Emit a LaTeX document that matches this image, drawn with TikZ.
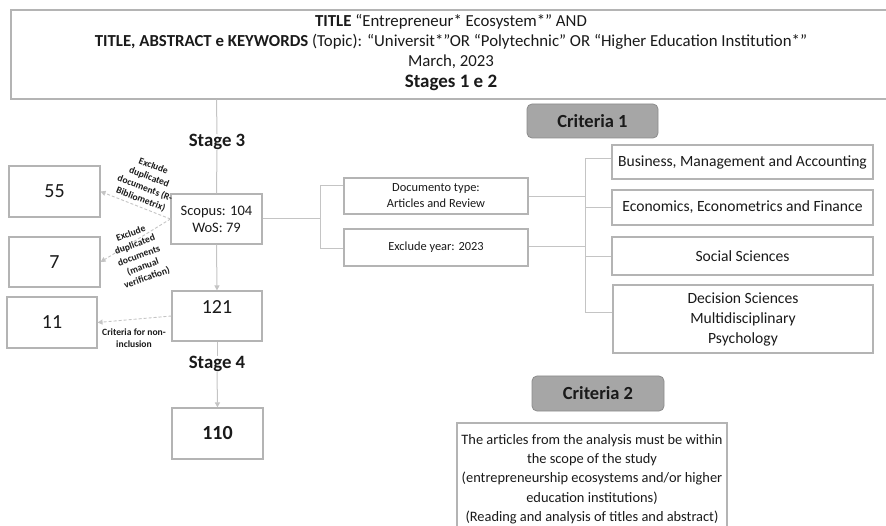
\documentclass[tikz,border=0pt]{standalone}
\usepackage{fontspec}
\setmainfont{Carlito}
\usetikzlibrary{arrows.meta}
\definecolor{boxgray}{HTML}{B4B4B4}
\definecolor{linegray}{HTML}{C4C4C4}
\definecolor{critfill}{HTML}{A6A6A6}
\definecolor{critdraw}{HTML}{8C8C8C}
\definecolor{txt}{HTML}{1A1A1A}
\begin{document}
\begin{tikzpicture}[x=1pt,y=-1pt,
  every node/.style={text=txt},
  box/.style={draw=boxgray, line width=1.1pt, inner sep=0pt, fill=white},
  conn/.style={draw=linegray, line width=1pt},
  arr/.style={draw=linegray, line width=1pt, -{Triangle[length=5pt,width=5pt,fill=linegray]}},
  darr/.style={draw=linegray, line width=0.9pt, dash pattern=on 3pt off 2pt, -{Triangle[length=5pt,width=5pt,fill=linegray]}},
  crit/.style={draw=critdraw, fill=critfill, rounded corners=5pt, line width=0.8pt, font=\fontsize{18.5}{22}\bfseries, inner sep=0pt},
  small/.style={font=\fontsize{9.6}{11.8}\bfseries, align=center, inner sep=0pt},
  mid/.style={font=\fontsize{12.4}{16}\selectfont, align=center, inner sep=0pt},
  cat/.style={font=\fontsize{15.6}{20}\selectfont, align=center, inner sep=0pt},
  num/.style={font=\fontsize{20}{24}\selectfont, inner sep=0pt}
]
\useasboundingbox (0,0) rectangle (886,526);

% top box
\node[box, minimum width=880pt, minimum height=89pt] (top) at (451,54.5) {};
\node[align=center, inner sep=0pt, font=\fontsize{16.8}{20}\selectfont] (toptext) at (451,53)
 {\textbf{TITLE} “Entrepreneur* Ecosystem*” AND\\
  \textbf{TITLE, ABSTRACT e KEYWORDS} (Topic): “Universit*”OR “Polytechnic” OR “Higher Education Institution*”\\
  March, 2023\\[1pt]
  {\fontsize{19}{21}\bfseries Stages 1 e 2}};

% left column
\node[box, minimum width=91pt, minimum height=50pt, font=\fontsize{14.5}{17}\selectfont, align=center] (scopus) at (216.5,219) {Scopus: 104\\WoS: 79};
\node[box, minimum width=91pt, minimum height=51pt, num] (b55) at (54.5,191.5) {55};
\node[box, minimum width=91pt, minimum height=50pt, num] (b7) at (54.5,262) {7};
\node[box, minimum width=90pt, minimum height=51pt, num] (b11) at (52,322.5) {11};
\node[box, minimum width=90pt, minimum height=50pt] (b121) at (217,316) {};
\node[num] (t121) at (217,307) {121};
\node[box, minimum width=91pt, minimum height=51pt, num, font=\fontsize{20}{24}\bfseries] (b110) at (217.5,433.5) {110};

\node[font=\fontsize{18.8}{22}\bfseries, inner sep=0pt] (st3) at (217,142) {Stage 3};
\node[font=\fontsize{18.8}{22}\bfseries, inner sep=0pt] (st4) at (217,364) {Stage 4};

\draw[conn] (top.south -| scopus.north) -- (st3.north);
\draw[conn] (st3.south) -- (scopus.north);
\draw[arr] (scopus.south) -- (b121.north);
\draw[conn] (b121.south) -- (st4.north);
\draw[arr] (st4.south) -- (b110.north);

\draw[darr] (scopus.west) -- (b55.east);
\draw[darr] (scopus.west) -- (b7.east);
\draw[darr] (b121.west) -- (b11.east);

\node[small, rotate=-21] (lab1) at (147,183) {Exclude\\duplicated\\documents (R-\\Bibliometrix)};
\node[small, rotate=20] (lab2) at (139,256) {Exclude\\duplicated\\documents\\(manual\\verification)};
\node[small] (lab3) at (134,338) {Criteria for non-\\inclusion};

% middle
\node[box, minimum width=184pt, minimum height=36pt, mid] (doc) at (436,196) {Documento type:\\Articles and Review};
\node[box, minimum width=184pt, minimum height=37pt, mid] (year) at (436,247.5) {Exclude year: 2023};

\coordinate (j1) at (320,219);
\draw[conn] (scopus.east) -- (j1);
\draw[conn] (320,186) -- (320,249);
\draw[conn] (320,186) -- (doc.west |- 0,186);
\draw[conn] (320,249) -- (year.west |- 0,249);

% criteria 1
\node[crit, minimum width=131pt, minimum height=34pt] (c1) at (592.5,121) {Criteria 1};

% categories
\node[box, minimum width=261pt, minimum height=34pt, cat] (k1) at (742.5,162) {Business, Management and Accounting};
\node[box, minimum width=261pt, minimum height=35pt, cat] (k2) at (742.5,207.5) {Economics, Econometrics and Finance};
\node[box, minimum width=261pt, minimum height=38pt, cat] (k3) at (742.5,256) {Social Sciences};
\node[box, minimum width=260pt, minimum height=68pt, cat] (k4) at (743,319) {Decision Sciences\\Multidisciplinary\\Psychology};

\coordinate (j2) at (585,197);
\coordinate (j3) at (585,247);
\draw[conn] (doc.east |- j2) -- (j2);
\draw[conn] (year.east |- j3) -- (j3);
\draw[conn] (585,159) -- (585,313);
\draw[conn] (585,159) -- (k1.west |- 0,159);
\draw[conn] (585,208) -- (k2.west |- 0,208);
\draw[conn] (585,257) -- (k3.west |- 0,257);
\draw[conn] (585,313) -- (k4.west |- 0,313);

% criteria 2
\node[crit, minimum width=132pt, minimum height=35pt] (c2) at (598,393.5) {Criteria 2};
\draw[box] (457,423) rectangle (727,530);
\node[font=\fontsize{14.4}{19.3}\selectfont, align=center, inner sep=0pt, anchor=north] (c2text) at (592,434)
 {The articles from the analysis must be within\\
  the scope of the study\\
  (entrepreneurship ecosystems and/or higher\\
  education institutions)\\
  (Reading and analysis of titles and abstract)};
\end{tikzpicture}
\end{document}
